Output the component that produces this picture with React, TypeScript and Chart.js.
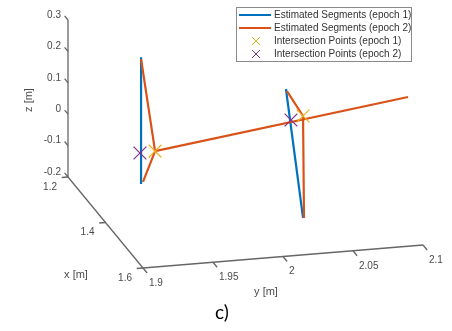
import React, { useEffect, useRef } from "react";
import { Chart, registerables } from "chart.js";

Chart.register(...registerables);

// ---- Data (3D points [x, y, z] in metres) ----
const blueLeft = [
  [1.3, 1.9388, 0.24],
  [1.3, 1.9388, -0.164],
];
const blueRight = [
  [1.4, 2.0289, 0.178],
  [1.4, 2.0411, -0.237],
];
const orangeLeft = [
  [1.3, 1.9388, 0.234],
  [1.3, 1.9488, -0.063],
  [1.3, 1.9402, -0.158],
];
const orangeRight = [
  [1.4, 2.0296, 0.171],
  [1.4, 2.0411, 0.0875],
  [1.4, 2.0418, -0.238],
];
const orangeLong = [
  [1.3, 1.9488, -0.063],
  [1.5, 2.1027, 0.198],
];
const intersectEpoch1 = [
  [1.3, 1.9488, -0.063],
  [1.4, 2.0411, 0.0875],
];
const intersectEpoch2 = [
  [1.3, 1.938, -0.065],
  [1.4, 2.0325, 0.078],
];

const seriesLabels = [
  "Estimated Segments (epoch 1)",
  "Estimated Segments (epoch 2)",
  "Intersection Points (epoch 1)",
  "Intersection Points (epoch 2)",
];

const xTicks = [1.2, 1.4, 1.6];
const yTicks = [1.9, 1.95, 2, 2.05, 2.1];
const zTicks = [-0.2, -0.1, 0, 0.1, 0.2, 0.3];
const xTickLabels = ["1.2", "1.4", "1.6"];
const yTickLabels = ["1.9", "1.95", "2", "2.05", "2.1"];
const zTickLabels = ["-0.2", "-0.1", "0", "0.1", "0.2", "0.3"];
const axisLimits = { x: [1.2, 1.6], y: [1.9, 2.1], z: [-0.2, 0.3] };

// ---- View (orthographic projection of the 3D axes box onto the canvas) ----
const BLUE = "#0072BD";
const ORANGE = "#D95319";
const YELLOW = "#EDB120";
const PURPLE = "#7E2F8E";

function proj(x: number, y: number, z: number) {
  const dx = x - axisLimits.x[0];
  const dy = y - axisLimits.y[0];
  const dz = z - axisLimits.z[0];
  return {
    x: 68 + dx * 187.5 + dy * 1400,
    y: 177 + dx * 227.5 - dy * 115 - dz * 314,
  };
}

const toXY = (pts: number[][]) => pts.map((p) => proj(p[0], p[1], p[2]));

const TICK_FONT = '10px "Liberation Sans", Arial, sans-serif';
const LABEL_FONT = '11px "Liberation Sans", Arial, sans-serif';
const TEXT_COLOR = "#4a4a4a";
const AXIS_COLOR = "#666666";

const axesPlugin = {
  id: "axes3d",
  beforeDatasetsDraw(chart: any) {
    const ctx = chart.ctx;
    const sx = chart.scales.x;
    const sy = chart.scales.y;
    const P = (x: number, y: number, z: number) => {
      const p = proj(x, y, z);
      return [sx.getPixelForValue(p.x), sy.getPixelForValue(p.y)];
    };
    const line = (a: number[], b: number[]) => {
      ctx.beginPath();
      ctx.moveTo(a[0], a[1]);
      ctx.lineTo(b[0], b[1]);
      ctx.stroke();
    };
    const [x0, x1] = axisLimits.x;
    const [y0, y1] = axisLimits.y;
    const [z0, z1] = axisLimits.z;
    ctx.save();
    ctx.strokeStyle = AXIS_COLOR;
    ctx.lineWidth = 1.3;
    // axis lines
    line(P(x0, y0, z0), P(x0, y0, z1));
    line(P(x0, y0, z0), P(x1, y0, z0));
    line(P(x1, y0, z0), P(x1, y1, z0));
    // ticks
    zTicks.forEach((z) => line(P(x0, y0, z), P(x0 - 0.018, y0, z)));
    xTicks.forEach((x) => line(P(x, y0, z0), P(x, y0 - 0.0045, z0)));
    yTicks.forEach((y) => line(P(x1, y, z0), P(x1 + 0.022, y, z0)));
    // tick labels
    ctx.fillStyle = TEXT_COLOR;
    ctx.font = TICK_FONT;
    ctx.textBaseline = "middle";
    ctx.textAlign = "right";
    zTicks.forEach((z, i) => {
      const p = P(x0, y0, z);
      ctx.fillText(zTickLabels[i], p[0] - 7, p[1] - 5);
    });
    xTicks.forEach((x, i) => {
      const p = P(x, y0, z0);
      ctx.fillText(xTickLabels[i], p[0] - 11, p[1] + 10);
    });
    ctx.textAlign = "left";
    yTicks.forEach((y, i) => {
      const p = P(x1, y, z0);
      ctx.fillText(yTickLabels[i], p[0] + 6, p[1] + 15);
    });
    // axis titles
    ctx.font = LABEL_FONT;
    ctx.textAlign = "center";
    ctx.fillText("x [m]", 76, 275);
    ctx.fillText("y [m]", 266, 292);
    ctx.save();
    ctx.translate(29, 100);
    ctx.rotate(-Math.PI / 2);
    ctx.fillText("z [m]", 0, 0);
    ctx.restore();
    ctx.restore();
  },
  afterDraw(chart: any) {
    const ctx = chart.ctx;
    ctx.save();
    // legend box
    const bx = 236.5, by = 7.5, bw = 175, bh = 54;
    ctx.fillStyle = "#ffffff";
    ctx.fillRect(bx, by, bw, bh);
    ctx.strokeStyle = "#8a8a8a";
    ctx.lineWidth = 1;
    ctx.strokeRect(bx, by, bw, bh);
    const legendItems = chart.data.datasets.filter((d: any) => d.legendRow !== undefined);
    legendItems.sort((a: any, b: any) => a.legendRow - b.legendRow);
    legendItems.forEach((d: any) => {
      const ry = 15 + d.legendRow * 13;
      if (d.showLine) {
        ctx.strokeStyle = d.borderColor;
        ctx.lineWidth = 2;
        ctx.beginPath();
        ctx.moveTo(239, ry);
        ctx.lineTo(271, ry);
        ctx.stroke();
      } else {
        ctx.strokeStyle = d.borderColor;
        ctx.lineWidth = 1;
        const r = 4;
        ctx.beginPath();
        ctx.moveTo(256 - r, ry - r);
        ctx.lineTo(256 + r, ry + r);
        ctx.moveTo(256 - r, ry + r);
        ctx.lineTo(256 + r, ry - r);
        ctx.stroke();
      }
      ctx.fillStyle = "#333333";
      ctx.font = TICK_FONT;
      ctx.textAlign = "left";
      ctx.textBaseline = "middle";
      ctx.fillText(d.label, 274, ry + 0.5);
    });
    // caption
    ctx.fillStyle = "#000000";
    ctx.font = '19px Lato, "Open Sans", sans-serif';
    ctx.textAlign = "center";
    ctx.textBaseline = "middle";
    ctx.fillText("c)", 222, 313);
    ctx.restore();
  },
};

export default function App() {
  const canvasRef = useRef<HTMLCanvasElement | null>(null);

  useEffect(() => {
    const canvas = canvasRef.current;
    if (!canvas) return;
    const lineDs = (label: string, pts: number[][], color: string, row?: number) => ({
      label,
      data: toXY(pts),
      showLine: true,
      borderColor: color,
      backgroundColor: color,
      borderWidth: 2.2,
      pointRadius: 0,
      tension: 0,
      clip: false,
      order: color === ORANGE ? 1 : 2,
      legendRow: row,
    });
    const markerDs = (label: string, pts: number[][], color: string, row: number) => ({
      label,
      data: toXY(pts),
      showLine: false,
      borderColor: color,
      backgroundColor: color,
      pointStyle: "crossRot",
      pointRadius: 9,
      pointBorderWidth: 1.2,
      borderWidth: 1.2,
      clip: false,
      order: 0,
      legendRow: row,
    });
    const chart = new Chart(canvas, {
      type: "scatter",
      data: {
        datasets: [
          markerDs(seriesLabels[2], intersectEpoch1, YELLOW, 2),
          markerDs(seriesLabels[3], intersectEpoch2, PURPLE, 3),
          lineDs(seriesLabels[1], orangeLeft, ORANGE, 1),
          lineDs(seriesLabels[1], orangeRight, ORANGE),
          lineDs(seriesLabels[1], orangeLong, ORANGE),
          lineDs(seriesLabels[0], blueLeft, BLUE, 0),
          lineDs(seriesLabels[0], blueRight, BLUE),
        ] as any,
      },
      options: {
        animation: false,
        responsive: false,
        events: [],
        layout: { padding: 0, autoPadding: false },
        scales: {
          x: { type: "linear", min: 0, max: 452, display: false },
          y: { type: "linear", min: 0, max: 331, reverse: true, display: false },
        },
        plugins: {
          legend: { display: false },
          tooltip: { enabled: false },
        },
      } as any,
      plugins: [axesPlugin],
    });
    return () => chart.destroy();
  }, []);

  return (
    <div style={{ position: "absolute", left: 0, top: 0, width: 452, height: 331, background: "#fff" }}>
      <canvas ref={canvasRef} width={452} height={331} style={{ display: "block" }} />
    </div>
  );
}
